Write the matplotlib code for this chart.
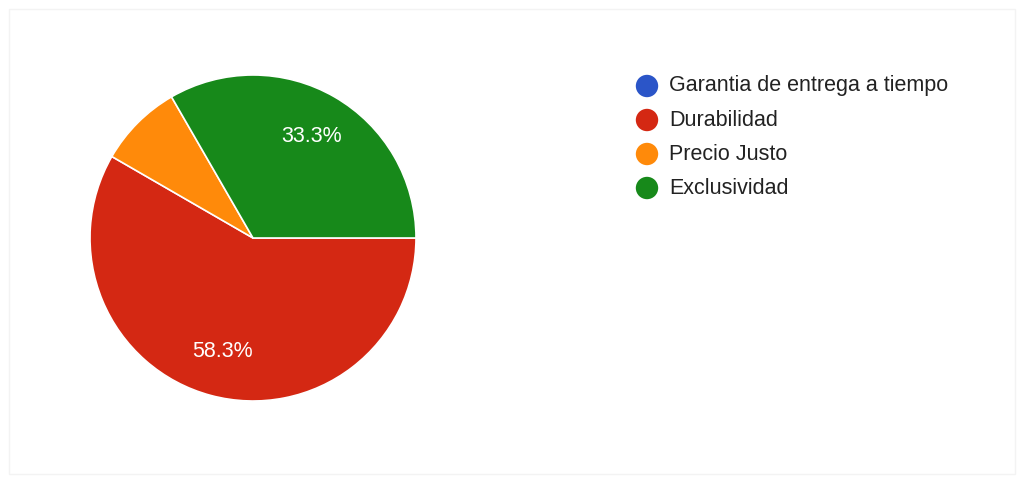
import matplotlib.pyplot as plt
from matplotlib.patches import Rectangle

# Survey answers (count of responses per option)
categories = ['Garantia de entrega a tiempo', 'Durabilidad', 'Precio Justo', 'Exclusividad']
responses = [0, 7, 1, 4]
colors = ['#2b55c8', '#d42813', '#ff8a0a', '#17891a']

plt.rcParams['font.family'] = ['Liberation Sans', 'DejaVu Sans']

fig = plt.figure(figsize=(10.24, 4.83), dpi=100)
ax = fig.add_axes([0, 0, 1, 1])
ax.set_xlim(0, 1024)
ax.set_ylim(0, 483)
ax.set_aspect('equal')
ax.axis('off')

# faint frame around the card
ax.add_patch(Rectangle((9, 9), 1006, 465, fill=False, edgecolor='#f3f3f3', linewidth=1))

# skip empty slices so no stray edge line is drawn
shown = [(v, c) for v, c in zip(responses, colors) if v > 0]
vals = [v for v, _ in shown]
cols = [c for _, c in shown]


def pct_label(p):
    return f'{p:.1f}%' if p >= 10 else ''


wedges, texts, autotexts = ax.pie(
    vals, colors=cols, startangle=0, counterclock=False,
    center=(253, 245), radius=163,
    autopct=pct_label, pctdistance=0.72,
    wedgeprops=dict(edgecolor='white', linewidth=1.2),
    textprops=dict(color='white', fontsize=15.5),
    frame=True,
)
ax.set_xlim(0, 1024)
ax.set_ylim(0, 483)
ax.axis('off')

# legend: coloured dots with labels
row_y = [397, 363, 329, 295]
for name, col, y in zip(categories, colors, row_y):
    ax.scatter([647], [y], s=260, color=col, edgecolors='none', zorder=3)
    ax.text(669, y, name, fontsize=15.5, color='#222222', va='center', ha='left')

fig.savefig('out.png', dpi=100, facecolor='white')
